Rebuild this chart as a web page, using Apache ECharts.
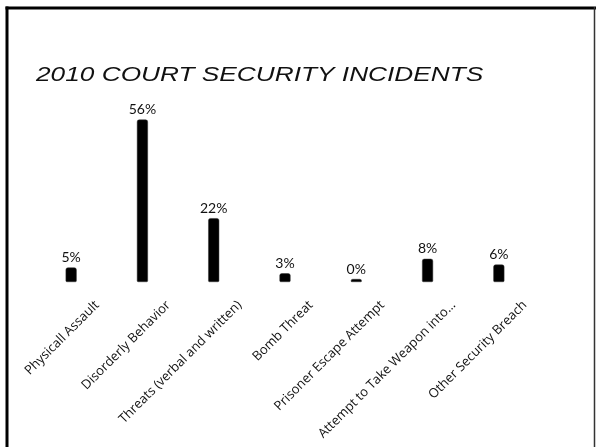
<!DOCTYPE html>
<html>
<head>
<meta charset="utf-8">
<script src="https://cdn.jsdelivr.net/npm/echarts@6/dist/echarts.min.js"></script>
<style>
html,body{margin:0;padding:0;background:#fff;}
#chart{width:596px;height:447px;}
</style>
</head>
<body>
<div id="chart"></div>
<script>
const titleText = "2010 COURT SECURITY INCIDENTS";
const categories = [
  "Physicall Assault",
  "Disorderly Behavior",
  "Threats (verbal and written)",
  "Bomb Threat",
  "Prisoner Escape Attempt",
  "Attempt to Take Weapon into…",
  "Other Security Breach"
];
const percentValues = [5, 56, 22, 3, 0, 8, 6];

const chart = echarts.init(document.getElementById('chart'), null, {renderer: 'canvas'});
chart.setOption({
  backgroundColor: '#ffffff',
  animation: false,
  graphic: [
    {type: 'line', shape: {x1: 5.5, y1: 8, x2: 596, y2: 8}, style: {stroke: '#000', lineWidth: 3}},
    {type: 'line', shape: {x1: 7, y1: 6.5, x2: 7, y2: 447}, style: {stroke: '#000', lineWidth: 3}},
    {type: 'line', shape: {x1: 594.5, y1: 7, x2: 594.5, y2: 447}, style: {stroke: '#333', lineWidth: 1.5}},
    {
      type: 'text', x: 36, y: 75, scaleX: 1.25, scaleY: 1,
      style: {
        text: titleText,
        fontFamily: 'Liberation Sans',
        fontStyle: 'italic',
        fontSize: 21,
        fill: '#111',
        verticalAlign: 'middle',
        align: 'left'
      }
    }
  ],
  grid: [
    {left: 35.5, right: 61.5, top: 108, bottom: 165},
    {left: 61.5, right: 35.5, top: 108, bottom: 165}
  ],
  xAxis: [
    {
      type: 'category', gridIndex: 0, data: categories,
      axisLine: {show: false}, axisTick: {show: false}, axisLabel: {show: false}
    },
    {
      type: 'category', gridIndex: 1, data: categories,
      axisLine: {show: false}, axisTick: {show: false},
      axisLabel: {
        show: true, rotate: 45, margin: 21, interval: 0,
        fontFamily: 'Open Sans', fontSize: 13, color: '#111'
      }
    }
  ],
  yAxis: [
    {type: 'value', gridIndex: 0, min: 0, max: 60, show: false, splitLine: {show: false}},
    {type: 'value', gridIndex: 1, min: 0, max: 60, show: false, splitLine: {show: false}}
  ],
  series: [
    {
      type: 'bar',
      xAxisIndex: 0, yAxisIndex: 0,
      data: percentValues,
      barWidth: 11,
      barMinHeight: 3,
      itemStyle: {color: '#000', borderRadius: [2, 2, 1, 1], borderColor: '#333', borderWidth: 0.5},
      label: {
        show: true, position: 'top', distance: 3,
        formatter: p => p.value + '%',
        fontFamily: 'Lato', fontSize: 14, color: '#111'
      }
    }
  ]
});
</script>
</body>
</html>
